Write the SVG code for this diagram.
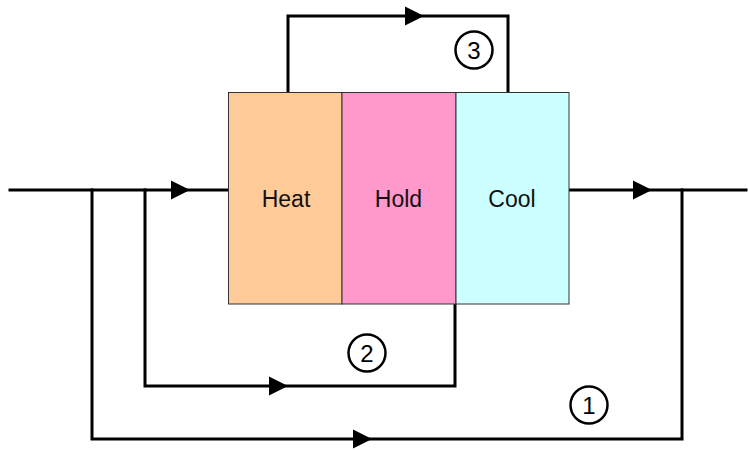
<svg xmlns="http://www.w3.org/2000/svg" width="748" height="450" viewBox="0 0 748 450">
<style>
.box{stroke:#333;stroke-width:1}
.lbl{font-family:"Liberation Sans",Arial,sans-serif;font-size:23px;fill:#111;text-anchor:middle}
.num{font-family:"Liberation Sans",Arial,sans-serif;font-size:24px;fill:#000;text-anchor:middle}
.ring{fill:#fff;stroke:#000;stroke-width:2.5}
.line{fill:none;stroke:#000;stroke-width:3;stroke-linejoin:miter;stroke-linecap:square}
.head{fill:#000}
</style>
<rect width="748" height="450" fill="#fff"/>
<g id="connectors">
<path class="line" d="M10,190 H228"/>
<path class="line" d="M569,190 H746"/>
<path class="line" d="M288,92 V16 H508 V92"/>
<path class="line" d="M145,190 V386 H455 V304"/>
<path class="line" d="M92,190 V439 H682 V190"/>
<polygon class="head" points="171,180.5 190,190 171,199.5"/>
<polygon class="head" points="633,180.5 652,190 633,199.5"/>
<polygon class="head" points="405,6.5 424,16 405,25.5"/>
<polygon class="head" points="269,376.5 288,386 269,395.5"/>
<polygon class="head" points="353,429.5 372,439 353,448.5"/>
</g>
<g id="heat">
<rect class="box" x="228.5" y="92.5" width="113.5" height="211.5" fill="#FFCC99"/>
<text class="lbl" x="286" y="207">Heat</text>
</g>
<g id="hold">
<rect class="box" x="342" y="92.5" width="114" height="211.5" fill="#FF99CC"/>
<text class="lbl" x="398.5" y="207">Hold</text>
</g>
<g id="cool">
<rect class="box" x="456" y="92.5" width="113" height="211.5" fill="#CCFFFF"/>
<text class="lbl" x="512" y="207">Cool</text>
</g>
<g id="label3">
<circle class="ring" cx="474" cy="50" r="18.5"/>
<text class="num" x="474" y="58.5">3</text>
</g>
<g id="label2">
<circle class="ring" cx="367" cy="353" r="18.5"/>
<text class="num" x="367" y="361.5">2</text>
</g>
<g id="label1">
<circle class="ring" cx="589" cy="405" r="18.5"/>
<text class="num" x="589" y="413.5">1</text>
</g>
</svg>
